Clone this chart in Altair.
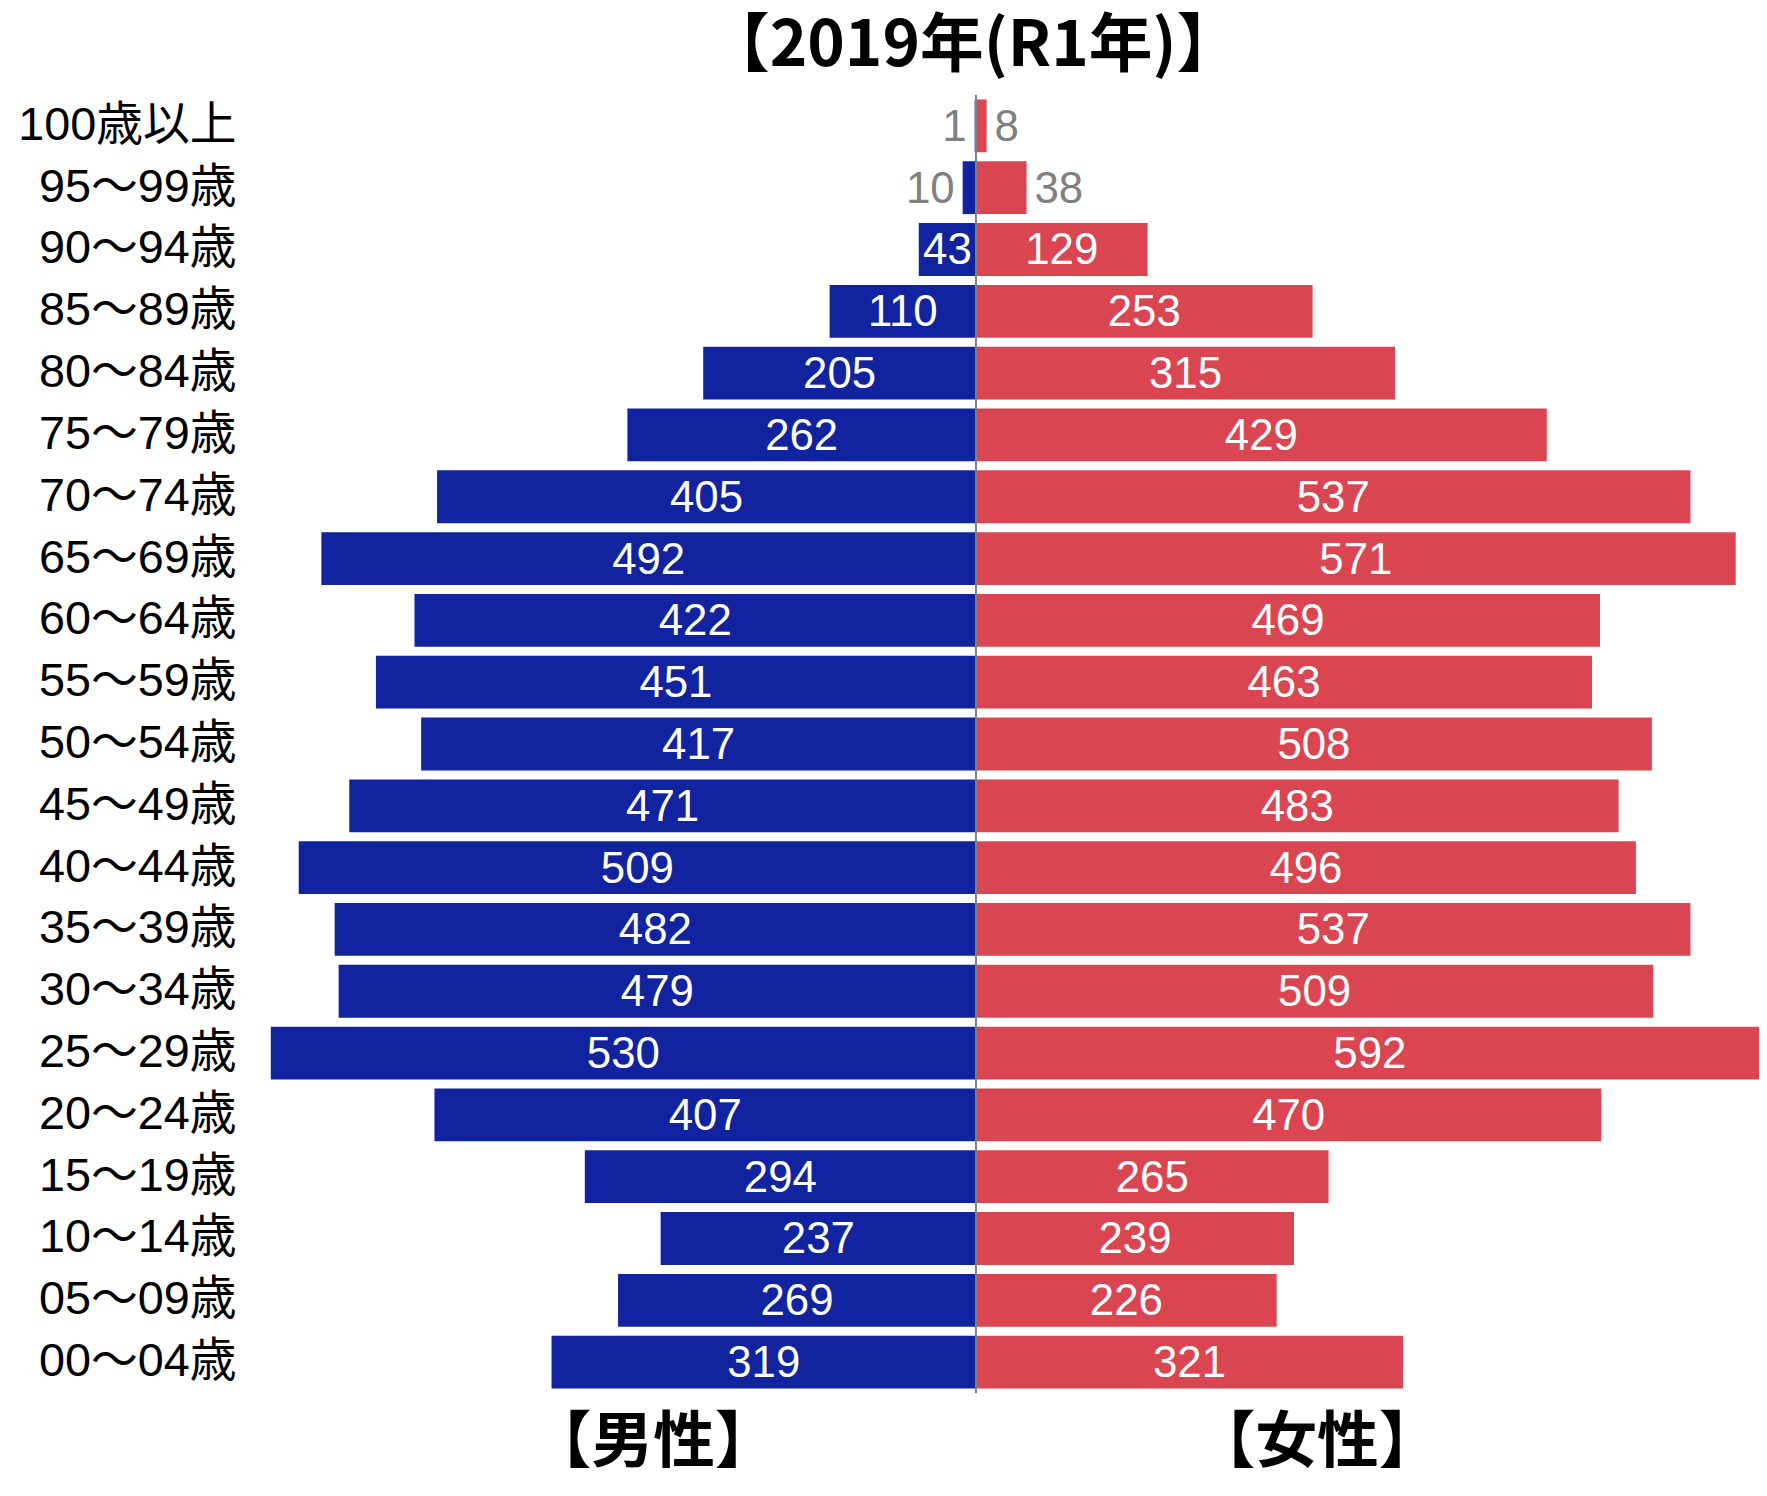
import altair as alt
import pandas as pd

ages = ["100歳以上", "95～99歳", "90～94歳", "85～89歳", "80～84歳", "75～79歳",
        "70～74歳", "65～69歳", "60～64歳", "55～59歳", "50～54歳", "45～49歳",
        "40～44歳", "35～39歳", "30～34歳", "25～29歳", "20～24歳", "15～19歳",
        "10～14歳", "05～09歳", "00～04歳"]
male = [1, 10, 43, 110, 205, 262, 405, 492, 422, 451, 417, 471, 509, 482, 479,
        530, 407, 294, 237, 269, 319]
female = [8, 38, 129, 253, 315, 429, 537, 571, 469, 463, 508, 483, 496, 537, 509,
          592, 470, 265, 239, 226, 321]
sex_labels = ["【男性】", "【女性】"]
sex_label_pos = [-243, 256]
title_text = "【2019年(R1年)】"

rows = []
for a, m, f in zip(ages, male, female):
    rows.append({"age": a, "sex": "男性", "value": m, "sv": -m, "mid": -m / 2,
                 "inside": m >= 40})
    rows.append({"age": a, "sex": "女性", "value": f, "sv": f, "mid": f / 2,
                 "inside": f >= 40})
df = pd.DataFrame(rows)

NUM_FONT = "Liberation Sans, Noto Sans CJK JP"
CJK_FONT = "Noto Sans CJK JP"

xscale = alt.Scale(domain=[-530, 588.5], nice=False)
yscale = alt.Scale(paddingInner=0.145, paddingOuter=0.0725)

base = alt.Chart(df)

bars = base.mark_bar().encode(
    y=alt.Y("age:N", sort=ages, scale=yscale,
            axis=alt.Axis(title=None, ticks=False, domain=False,
                          labelFontSize=47, labelFont=NUM_FONT,
                          labelColor="black", labelPadding=35,
                          labelAlign="right", labelLimit=600)),
    x=alt.X("sv:Q", scale=xscale,
            axis=alt.Axis(title=None, grid=False, ticks=False, domain=False,
                          values=sex_label_pos,
                          labelExpr=f"datum.value < 0 ? '{sex_labels[0]}' : '{sex_labels[1]}'",
                          labelFontSize=62, labelFont=CJK_FONT,
                          labelFontWeight="bold", labelColor="black",
                          labelPadding=20, labelLimit=600)),
    color=alt.Color("sex:N", scale=alt.Scale(domain=["男性", "女性"],
                                             range=["#11239E", "#D94651"]),
                    legend=None),
)

inside = base.transform_filter("datum.inside").mark_text(
    color="white", fontSize=44, font=NUM_FONT, align="center", baseline="middle", dy=2
).encode(
    y=alt.Y("age:N", sort=ages, scale=yscale),
    x=alt.X("mid:Q", scale=xscale),
    text="value:Q",
)

out_m = base.transform_filter("!datum.inside && datum.sex == '男性'").mark_text(
    color="#808080", fontSize=44, font=NUM_FONT, align="right", baseline="middle",
    dx=-8, dy=2
).encode(
    y=alt.Y("age:N", sort=ages, scale=yscale),
    x=alt.X("sv:Q", scale=xscale),
    text="value:Q",
)

out_f = base.transform_filter("!datum.inside && datum.sex == '女性'").mark_text(
    color="#808080", fontSize=44, font=NUM_FONT, align="left", baseline="middle",
    dx=8, dy=2
).encode(
    y=alt.Y("age:N", sort=ages, scale=yscale),
    x=alt.X("sv:Q", scale=xscale),
    text="value:Q",
)

zero_line = alt.Chart(pd.DataFrame({"z": [0]})).mark_rule(
    color="#808080", strokeWidth=2
).encode(x=alt.X("z:Q", scale=xscale))

chart = alt.layer(bars, inside, out_m, out_f, zero_line).properties(
    width=1495,
    height=1304,
    padding={"left": 264, "top": 84, "right": 0, "bottom": 88},
    autosize=alt.AutoSizeParams(type="none"),
    title=alt.TitleParams(title_text, font=CJK_FONT, fontSize=64,
                          fontWeight="bold", color="black", anchor="middle",
                          dx=-42, offset=-36, baseline="alphabetic"),
).configure_view(stroke=None)

chart.save("out.html", embed_options={"renderer": "svg", "actions": False})
